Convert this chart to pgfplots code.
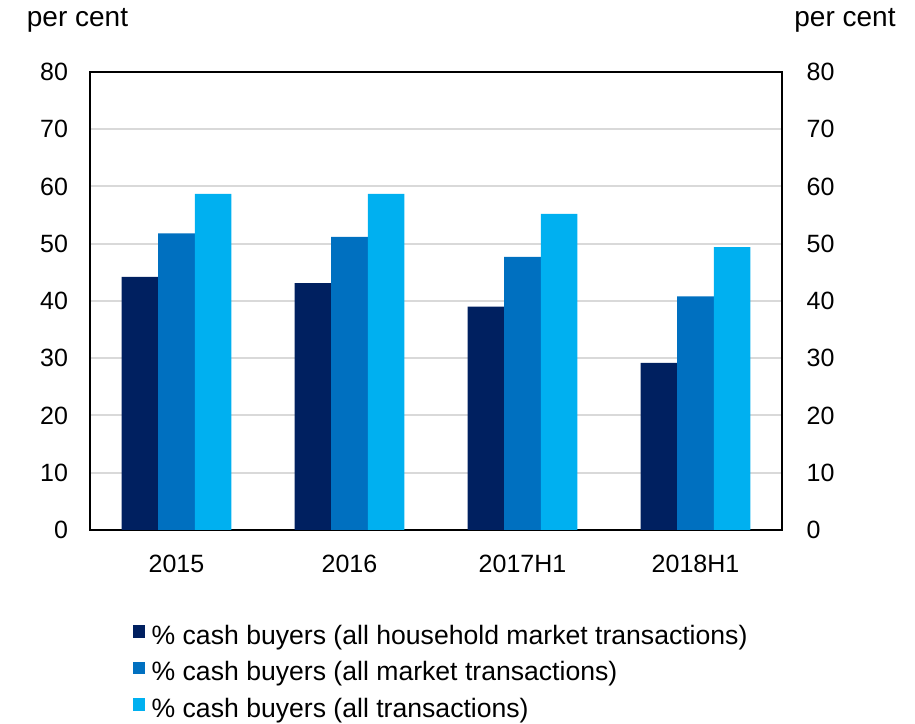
\documentclass[border=0pt]{standalone}
\usepackage{pgfplots}
\pgfplotsset{compat=1.18}
\usepackage{fontspec}
\setmainfont{Liberation Sans}
\definecolor{cA}{HTML}{002060}
\definecolor{cB}{HTML}{0070C0}
\definecolor{cC}{HTML}{00B0F0}
\definecolor{gridc}{HTML}{D9D9D9}
\begin{document}
\begin{tikzpicture}
\pgfplotsset{
  every axis/.append style={
    /pgf/number format/assume math mode=true,
    tick label style={font=\fontsize{12.5}{14}\selectfont},
  },
}
\begin{axis}[
  name=main,
  scale only axis,
  width=346pt, height=229pt,
  ymin=0, ymax=80,
  xmin=-0.5, xmax=3.5,
  ybar=0pt, bar width=18.3pt,
  ytick={0,10,...,80},
  xtick=data,
  xticklabels={2015,2016,2017H1,2018H1},
  major tick length=0pt,
  ymajorgrids, grid style={gridc, line width=1pt},
  axis line style={black, line width=1.3pt},
  yticklabel style={xshift=-7.5pt},
  xticklabel style={yshift=-9.1pt},
  legend style={at={(0.0611,-0.2074)}, anchor=north west, draw=none, fill=none,
    inner sep=0pt,
    font=\fontsize{13.3}{15}\selectfont, row sep=5.9pt,
    nodes={inner sep=0pt, text height=9.5pt, text depth=2.8pt},
    /tikz/every odd column/.append style={column sep=3.3pt}},
  legend cell align=left,
  legend image code/.code={\fill[#1] (0pt,-0.1pt) rectangle (6.2pt,6.1pt);},
  clip=false,
]
\addplot[fill=cA, draw=none] coordinates {(0,44.2) (1,43.1) (2,39.0) (3,29.2)};
\addplot[fill=cB, draw=none] coordinates {(0,51.8) (1,51.2) (2,47.7) (3,40.8)};
\addplot[fill=cC, draw=none] coordinates {(0,58.7) (1,58.7) (2,55.2) (3,49.4)};
\legend{\% cash buyers (all household market transactions),
        \% cash buyers (all market transactions),
        \% cash buyers (all transactions)}
\node[anchor=base, font=\fontsize{14}{16}\selectfont] at ([xshift=-6.25pt,yshift=22.7pt]rel axis cs:0,1) {per cent};
\node[anchor=base, font=\fontsize{14}{16}\selectfont] at ([xshift=31.5pt,yshift=22.7pt]rel axis cs:1,1) {per cent};
\end{axis}
\begin{axis}[
  scale only axis,
  width=346pt, height=229pt,
  ymin=0, ymax=80,
  xmin=-0.5, xmax=3.5,
  axis y line*=right,
  axis x line=none,
  ytick={0,10,...,80},
  major tick length=0pt,
  axis line style={black, line width=1.3pt},
  yticklabel style={xshift=8.8pt},
]
\addplot[draw=none] coordinates {(0,0)};
\end{axis}
\pgfresetboundingbox
\useasboundingbox ([xshift=-45pt,yshift=-97pt]main.south west) rectangle ([xshift=66.5pt,yshift=36pt]main.north east);
\end{tikzpicture}
\end{document}
